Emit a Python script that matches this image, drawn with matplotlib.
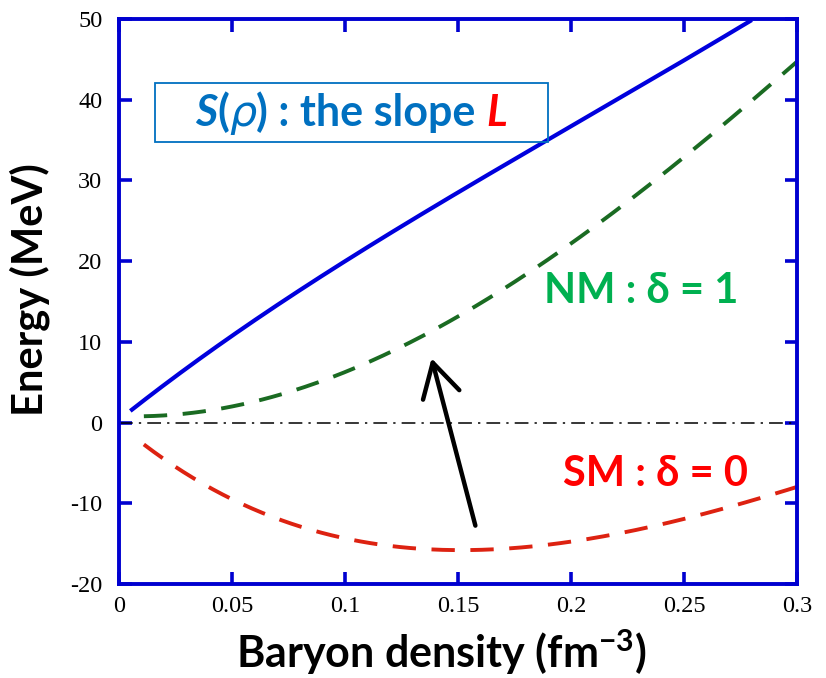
import matplotlib
matplotlib.use("Agg")  # no display needed

import numpy as np
import matplotlib.pyplot as plt
from matplotlib.patches import Rectangle
from matplotlib.offsetbox import TextArea, HPacker, AnnotationBbox

plt.rcParams['mathtext.default'] = 'regular'

# Values
rho_s = [0.005, 0.02, 0.033, 0.05, 0.07, 0.102, 0.15, 0.182, 0.204, 0.25, 0.28]
e_sym = [1.7, 4.6, 6.8, 10.7, 15.1, 20.4, 28.3, 33.6, 37.5, 45.0, 49.8]

rho_nm = [0.011, 0.03, 0.055, 0.085, 0.107, 0.138, 0.179, 0.213, 0.25, 0.28, 0.3]
e_nm = [0.8, 1.2, 2.1, 4.6, 7.3, 11.4, 17.9, 24.9, 32.8, 40.1, 44.6]

rho_sm = [0.011, 0.031, 0.055, 0.077, 0.107, 0.159, 0.213, 0.25, 0.3]
e_sm = [-2.6, -6.8, -10.0, -12.7, -14.6, -15.8, -14.3, -11.8, -8.0]

x_ticks = [0, 0.05, 0.1, 0.15, 0.2, 0.25, 0.3]
x_labels = ["0", "0.05", "0.1", "0.15", "0.2", "0.25", "0.3"]
y_ticks = [-20, -10, 0, 10, 20, 30, 40, 50]
y_labels = ["-20", "-10", "0", "10", "20", "30", "40", "50"]

AX_BLUE = "#0000d0"
TXT_BLUE = "#0070C0"
SANS = ["Lato", "DejaVu Sans"]
W, H = 826, 678


def smooth(xs, ys, n=200):
    # smooth curve through the read points (low order fit)
    xs = np.asarray(xs)
    ys = np.asarray(ys)
    xx = np.linspace(xs[0], xs[-1], n)
    coef = np.polyfit(xs, ys, 4)
    return xx, np.polyval(coef, xx)


fig = plt.figure(figsize=(8.26, 6.78), dpi=100)
ax = fig.add_axes([119 / W, 1 - 584 / H, (797 - 119) / W, (584 - 19) / H])

x, y = smooth(rho_s, e_sym)
ax.plot(x, y, color="#0000dd", lw=3.0, solid_capstyle="butt")

x, y = smooth(rho_nm, e_nm)
ax.plot(x, y, color="#1a6b22", lw=2.8, dashes=(6, 4))

x, y = smooth(rho_sm, e_sm)
ax.plot(x, y, color="#dd2211", lw=2.8, dashes=(6, 4))

ax.axhline(0, color="black", lw=1.1, dashes=(9, 4, 1.5, 4))

ax.annotate("", xy=(0.138, 8.3), xytext=(0.158, -13.1),
            arrowprops=dict(arrowstyle="->,head_length=0.8,head_width=0.45",
                            color="black", lw=3.2, mutation_scale=30))

ax.set_xlim(0, 0.3)
ax.set_ylim(-20, 50)
ax.set_xticks(x_ticks)
ax.set_xticklabels(x_labels)
ax.set_yticks(y_ticks)
ax.set_yticklabels(y_labels)

for s in ax.spines.values():
    s.set_color(AX_BLUE)
    s.set_linewidth(2.8)

ax.tick_params(direction="in", length=9, width=2.6, color=AX_BLUE,
               top=True, right=True, labelsize=17.5)
ax.tick_params(axis="y", pad=12)
ax.tick_params(axis="x", pad=9)
for lab in ax.get_xticklabels() + ax.get_yticklabels():
    lab.set_family("Liberation Serif")

# axis titles
fig.text(441 / W, 1 - 668 / H, r"Baryon density (fm$^{-3}$)", ha="center", va="baseline",
         fontsize=31, fontweight="bold", family=SANS)
fig.text(30 / W, 1 - 290 / H, "Energy (MeV)", ha="center", va="center",
         rotation=90, fontsize=30, fontweight="bold", family=SANS)

# curve labels
ax.text(0.231, 16.3, "NM : δ = 1", color="#00B050", fontsize=30, fontweight="bold",
        family=SANS, ha="center", va="center")
ax.text(0.2375, -6.4, "SM : δ = 0", color="#FF0000", fontsize=30, fontweight="bold",
        family=SANS, ha="center", va="center")

# boxed title
fig.patches.append(Rectangle((155 / W, 1 - 142 / H), (548 - 155) / W, (142 - 83) / H,
                             transform=fig.transFigure, fill=False,
                             edgecolor=TXT_BLUE, linewidth=1.3))
parts = [
    TextArea("S", textprops=dict(color=TXT_BLUE, fontsize=31, fontweight="bold", style="italic", family=SANS)),
    TextArea("(", textprops=dict(color=TXT_BLUE, fontsize=31, fontweight="bold", family=SANS)),
    TextArea("ρ", textprops=dict(color=TXT_BLUE, fontsize=31, style="italic", family=["DejaVu Sans"])),
    TextArea(") : the slope ", textprops=dict(color=TXT_BLUE, fontsize=31, fontweight="bold", family=SANS)),
    TextArea("L", textprops=dict(color="#FF0000", fontsize=31, fontweight="bold", style="italic", family=SANS)),
]
pack = HPacker(children=parts, align="baseline", pad=0, sep=0)
ab = AnnotationBbox(pack, (351 / W, 1 - 113 / H), xycoords="figure fraction", frameon=False,
                    pad=0, box_alignment=(0.5, 0.5))
fig.add_artist(ab)

fig.savefig("out.png", dpi=100)
